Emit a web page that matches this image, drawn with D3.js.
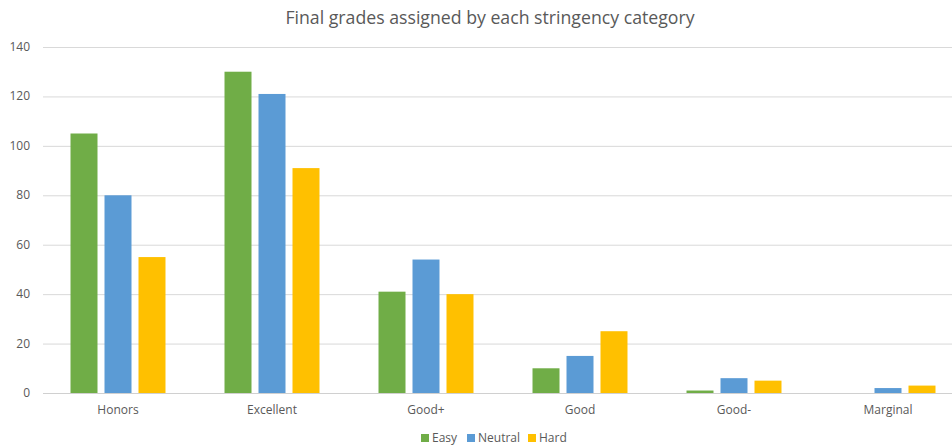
<!DOCTYPE html>
<html><head><meta charset="utf-8">
<script src="https://cdn.jsdelivr.net/npm/d3@7"></script>
<style>body{margin:0;background:#fff}svg{display:block}text{font-family:"Open Sans",sans-serif;fill:#595959}</style>
</head><body><svg id="c" width="952" height="448"></svg>
<script>
const categories = ["Honors","Excellent","Good+","Good","Good-","Marginal"];
const seriesNames = ["Easy","Neutral","Hard"];
const easy = [105,130,41,10,1,0];
const neutral = [80,121,54,15,6,2];
const hard = [55,91,40,25,5,3];
const yTicks = [0,20,40,60,80,100,120,140];
const colors = ["#70AD47","#5B9BD5","#FFC000"];
const title = "Final grades assigned by each stringency category";

const svg = d3.select("#c");
const values = [easy, neutral, hard];
const x = d3.scaleBand().domain(categories).range([41,965]).paddingInner(0).paddingOuter(0);
const x1 = d3.scaleBand().domain(seriesNames).range([0, x.bandwidth()]).paddingInner(0.206).paddingOuter(0.868);
const y = d3.scaleLinear().domain([0,140]).range([393,47]);

svg.append("text").attr("x",490).attr("y",24).attr("text-anchor","middle").style("font-size","17.7px").text(title);

svg.append("g").selectAll("line").data(yTicks).join("line")
  .attr("x1",43).attr("x2",952).attr("y1",d=>y(d)+0.5).attr("y2",d=>y(d)+0.5)
  .attr("stroke",d=>d===0?"#d0d0d0":"#d9d9d9").attr("stroke-width",1);
svg.append("g").selectAll("text").data(yTicks).join("text")
  .attr("x",30).attr("y",d=>y(d)+4).attr("text-anchor","end").style("font-size","12px").text(d=>d);

const g = svg.append("g");
seriesNames.forEach((s,si)=>{
  g.append("g").selectAll("rect").data(categories.map((c,i)=>({c,v:values[si][i]}))).join("rect")
    .attr("x",d=>x(d.c)+x1(s)).attr("width",x1.bandwidth())
    .attr("y",d=>y(d.v)).attr("height",d=>y(0)-y(d.v)).attr("fill",colors[si]);
});

svg.append("g").selectAll("text").data(categories).join("text")
  .attr("x",d=>x(d)+x.bandwidth()/2).attr("y",414).attr("text-anchor","middle").style("font-size","12px").text(d=>d);

const legX = [421,467,528];
const lg = svg.append("g");
seriesNames.forEach((s,i)=>{
  lg.append("rect").attr("x",legX[i]).attr("y",434).attr("width",8).attr("height",8).attr("fill",colors[i]);
  lg.append("text").attr("x",legX[i]+11).attr("y",442).style("font-size","12px").text(s);
});
</script></body></html>
